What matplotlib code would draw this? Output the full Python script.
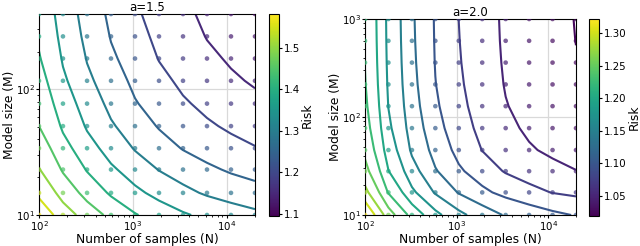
import numpy as np
import matplotlib
matplotlib.use('Agg')
import matplotlib.pyplot as plt
from matplotlib.colors import Normalize
from matplotlib.cm import ScalarMappable

# grid of experiments (same N grid for both panels)
n_samples = [100, 180, 325, 585, 1054, 1898, 3420, 6161, 11100, 20000]
model_size_a15 = [10, 15, 23, 34, 51, 77, 117, 176, 264, 398]
model_size_a20 = [10, 17, 28, 46, 77, 129, 215, 359, 599, 1000]

# risk values, one row per model size (bottom to top), one column per N
risk_a15 = [
    [1.581, 1.523, 1.475, 1.435, 1.403, 1.376, 1.355, 1.337, 1.322, 1.310],
    [1.538, 1.479, 1.431, 1.392, 1.360, 1.333, 1.311, 1.293, 1.278, 1.266],
    [1.502, 1.444, 1.396, 1.357, 1.324, 1.298, 1.276, 1.258, 1.243, 1.231],
    [1.474, 1.415, 1.367, 1.328, 1.296, 1.269, 1.247, 1.229, 1.214, 1.202],
    [1.450, 1.392, 1.344, 1.305, 1.272, 1.246, 1.224, 1.206, 1.191, 1.179],
    [1.431, 1.373, 1.325, 1.286, 1.253, 1.226, 1.205, 1.187, 1.172, 1.160],
    [1.416, 1.357, 1.309, 1.270, 1.238, 1.211, 1.189, 1.171, 1.156, 1.144],
    [1.403, 1.345, 1.297, 1.257, 1.225, 1.198, 1.176, 1.158, 1.144, 1.131],
    [1.393, 1.334, 1.286, 1.247, 1.214, 1.188, 1.166, 1.148, 1.133, 1.121],
    [1.384, 1.326, 1.278, 1.238, 1.206, 1.179, 1.158, 1.140, 1.125, 1.113],
]
risk_a20 = [
    [1.3214, 1.2602, 1.2147, 1.1807, 1.1554, 1.1366, 1.1225, 1.1121, 1.1043, 1.0985],
    [1.2814, 1.2229, 1.1794, 1.1470, 1.1229, 1.1049, 1.0914, 1.0815, 1.0740, 1.0685],
    [1.2574, 1.2006, 1.1583, 1.1268, 1.1033, 1.0858, 1.0728, 1.0631, 1.0559, 1.0505],
    [1.2430, 1.1872, 1.1457, 1.1147, 1.0916, 1.0744, 1.0616, 1.0521, 1.0450, 1.0397],
    [1.2344, 1.1792, 1.1381, 1.1074, 1.0846, 1.0676, 1.0549, 1.0455, 1.0385, 1.0332],
    [1.2292, 1.1744, 1.1335, 1.1031, 1.0804, 1.0635, 1.0509, 1.0416, 1.0346, 1.0294],
    [1.2261, 1.1715, 1.1308, 1.1005, 1.0779, 1.0611, 1.0485, 1.0392, 1.0322, 1.0270],
    [1.2243, 1.1698, 1.1292, 1.0989, 1.0764, 1.0596, 1.0471, 1.0378, 1.0308, 1.0256],
    [1.2232, 1.1687, 1.1282, 1.0980, 1.0755, 1.0587, 1.0462, 1.0369, 1.0300, 1.0248],
    [1.2225, 1.1681, 1.1276, 1.0974, 1.0749, 1.0582, 1.0457, 1.0364, 1.0295, 1.0243],
]

levels_a15 = [1.10, 1.15, 1.20, 1.25, 1.30, 1.35, 1.40, 1.45, 1.50, 1.55]
levels_a20 = [1.025, 1.05, 1.075, 1.10, 1.125, 1.15, 1.175, 1.20,
              1.225, 1.25, 1.275, 1.30]
# colorbar limits
crange_a15 = (1.094, 1.581)
crange_a20 = (1.019, 1.322)

plt.rcParams['font.size'] = 8.5
plt.rcParams['xtick.labelsize'] = 7.4
plt.rcParams['ytick.labelsize'] = 7.4
plt.rcParams['xtick.major.size'] = 2.2
plt.rcParams['ytick.major.size'] = 2.2
plt.rcParams['xtick.minor.size'] = 1.3
plt.rcParams['ytick.minor.size'] = 1.3
plt.rcParams['xtick.major.pad'] = 0.5
plt.rcParams['ytick.major.pad'] = 0.5

fig = plt.figure(figsize=(6.4, 2.46), dpi=100)

# axes placed in pixels to follow the original layout
def px_axes(x0, y0, x1, y1):
    W, H = 640, 246
    return fig.add_axes([x0 / W, (H - y1) / H, (x1 - x0) / W, (y1 - y0) / H])


def panel(ax, cax, M, risk, levels, crange, title):
    NN, MM = np.meshgrid(n_samples, M)
    Z = np.array(risk)
    norm = Normalize(*crange)
    ax.set_xscale('log')
    ax.set_yscale('log')
    ax.grid(True, which='major', color='#d9d9d9', lw=0.9, zorder=0)
    ax.set_axisbelow(True)
    ax.contour(NN, MM, Z, levels=levels, cmap='viridis', norm=norm,
               linewidths=1.5, zorder=2)
    ax.scatter(NN.ravel(), MM.ravel(), c=Z.ravel(), cmap='viridis', norm=norm,
               s=11, alpha=0.7, edgecolors='none', zorder=3)
    ax.set_xlim(n_samples[0], n_samples[-1])
    ax.set_ylim(M[0], M[-1])
    ax.set_xlabel('Number of samples (N)', fontsize=8.8, labelpad=0)
    ax.set_ylabel('Model size (M)', fontsize=8.8, labelpad=0)
    ax.set_title(title, fontsize=8.5, pad=2)
    cb = fig.colorbar(ScalarMappable(norm=norm, cmap='viridis'), cax=cax)
    cb.ax.tick_params(labelsize=7.4, length=2.2, pad=1)
    cb.set_label('Risk', fontsize=8.8, labelpad=1)


ax1 = px_axes(39, 14, 255, 215)
cax1 = px_axes(269, 14, 279, 216)
ax2 = px_axes(365, 19, 576, 215)
cax2 = px_axes(589, 19, 599, 216)

panel(ax1, cax1, model_size_a15, risk_a15, levels_a15, crange_a15, 'a=1.5')
panel(ax2, cax2, model_size_a20, risk_a20, levels_a20, crange_a20, 'a=2.0')

fig.savefig('out.png', dpi=100)
